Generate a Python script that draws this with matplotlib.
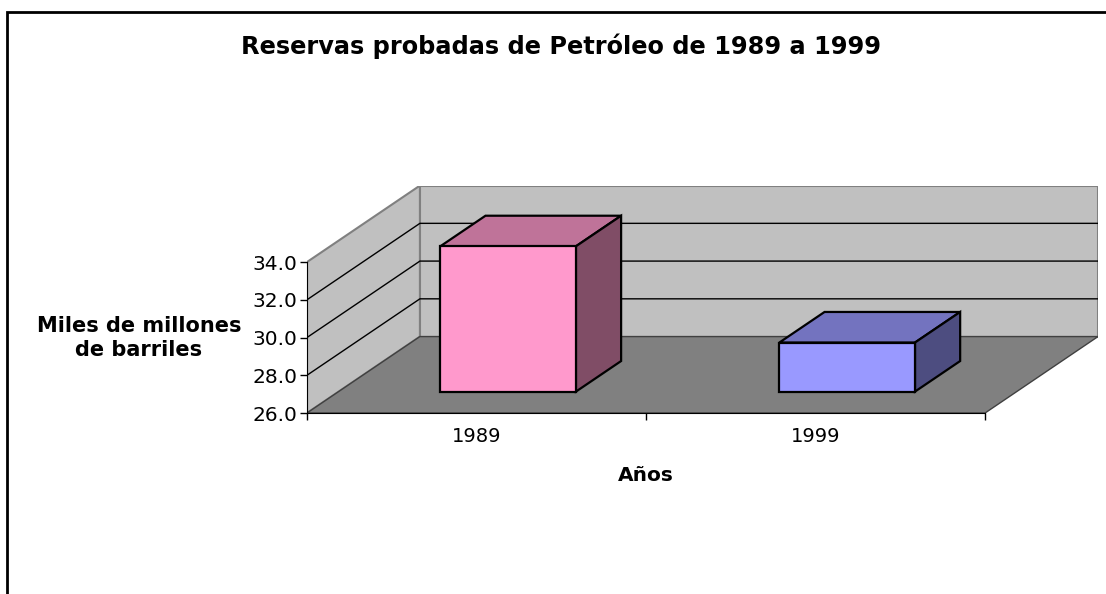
import matplotlib
matplotlib.use("Agg")
import matplotlib.pyplot as plt
from matplotlib.colors import to_rgb
from matplotlib.patches import Polygon, Rectangle

plt.rcParams['font.family'] = ['DejaVu Sans']

# datos
years = ["1989", "1999"]
reservas = [33.7, 28.6]
bar_colors = ["#FF99CC", "#9999FF"]
y_ticks = [26.0, 28.0, 30.0, 32.0, 34.0]

titulo = "Reservas probadas de Petróleo de 1989 a 1999"
y_label = "Miles de millones\nde barriles"
x_label = "Años"

# efecto 3D (profundidad en unidades de categoria / valor)
dx, dy = 0.333, 4.05
d0, d1 = 0.28, 0.68
bw = 0.4


def shade(c, f):
    r, g, b = to_rgb(c)
    return (r * f, g * f, b * f)


def poly(ax, pts, fc, ec, lw, z):
    ax.add_patch(Polygon(pts, closed=True, facecolor=fc, edgecolor=ec,
                         linewidth=lw, zorder=z, joinstyle='miter'))


fig = plt.figure(figsize=(11.06, 5.94), dpi=100)
ax = fig.add_axes([307 / 1106, (594 - 413) / 594, 791 / 1106, 227.4 / 594])

n = len(years)
y_min, y_max = y_ticks[0], y_ticks[-1]
ax.set_xlim(0, n + dx)
ax.set_ylim(y_min, y_max + dy)
ax.patch.set_visible(False)

# paredes y piso
back = [(dx, y_min + dy), (dx, y_max + dy), (n + dx, y_max + dy), (n + dx, y_min + dy)]
side = [(0, y_min), (0, y_max), (dx, y_max + dy), (dx, y_min + dy)]
floor = [(0, y_min), (n, y_min), (n + dx, y_min + dy), (dx, y_min + dy)]
poly(ax, back, "#C0C0C0", "#808080", 1.5, 1)
poly(ax, side, "#C0C0C0", "#808080", 1.5, 1)
poly(ax, floor, "#808080", "#404040", 1.0, 1.1)

# lineas de division
for v in y_ticks[1:-1]:
    ax.plot([0, dx, n + dx], [v, v + dy, v + dy], color="black", lw=1, zorder=1.5)

# barras
ddx = (d1 - d0) * dx
ddy = (d1 - d0) * dy
for i, (v, c) in enumerate(zip(reservas, bar_colors)):
    x0 = i + 0.5 - bw / 2 + d0 * dx
    x1 = x0 + bw
    yb = y_min + d0 * dy
    yt = v + d0 * dy
    front = [(x0, yb), (x1, yb), (x1, yt), (x0, yt)]
    top = [(x0, yt), (x1, yt), (x1 + ddx, yt + ddy), (x0 + ddx, yt + ddy)]
    lado = [(x1, yb), (x1 + ddx, yb + ddy), (x1 + ddx, yt + ddy), (x1, yt)]
    poly(ax, top, shade(c, 0.75), "black", 1.6, 3)
    poly(ax, lado, shade(c, 0.5), "black", 1.6, 3)
    poly(ax, front, c, "black", 1.6, 3)

# ejes
for s in ["top", "right"]:
    ax.spines[s].set_visible(False)
ax.spines["left"].set_bounds(y_min, y_max)
ax.spines["bottom"].set_bounds(0, n)
ax.spines["left"].set_zorder(2)
ax.spines["bottom"].set_zorder(2)

ax.set_yticks(y_ticks)
ax.set_yticklabels([f"{t:.1f}" for t in y_ticks])
ax.tick_params(axis="y", direction="out", length=5, width=1, pad=2, labelsize=14.5)

ax.set_xticks(range(n + 1))
ax.set_xticklabels([""] * (n + 1))
ax.set_xticks([i + 0.5 for i in range(n)], minor=True)
ax.set_xticklabels(years, minor=True)
ax.tick_params(axis="x", which="major", direction="out", length=5, width=1)
ax.tick_params(axis="x", which="minor", length=0, pad=10, labelsize=14)

ax.set_ylabel(y_label, rotation=0, fontsize=15, fontweight="bold",
              ha="center", va="center", linespacing=1.3)
ax.yaxis.set_label_coords(-0.2124, 0.33)
ax.set_xlabel(x_label, fontsize=14.5, fontweight="bold", ha="center", va="center")
ax.xaxis.set_label_coords(0.4286, -0.2727)

fig.text(561 / 1106, 1 - 46 / 594, titulo, fontsize=17.3, fontweight="bold",
         ha="center", va="center")

# marco del grafico
fig.add_artist(Rectangle((7 / 1106, -0.1), 1.2, 1.1 - 12.5 / 594, fill=False,
                         edgecolor="black", linewidth=2, transform=fig.transFigure))

fig.savefig("out.png", dpi=100)
